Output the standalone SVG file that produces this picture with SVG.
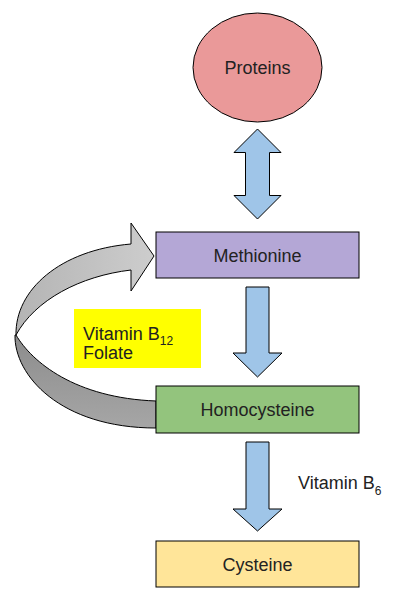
<svg xmlns="http://www.w3.org/2000/svg" width="416" height="598" viewBox="0 0 416 598">
<defs>
<style>
.lbl{font-family:"Liberation Sans",Arial,sans-serif;font-size:18px;fill:#222;}
.node{stroke:#000;stroke-width:1;}
.arr{fill:#9fc5e8;stroke:#000;stroke-width:1;stroke-linejoin:miter;}
.sub{font-size:12px;}
</style>
<linearGradient id="gLight" x1="0" y1="0" x2="1" y2="0">
<stop offset="0" stop-color="#b4b4b4"/>
<stop offset="1" stop-color="#cdcdcd"/>
</linearGradient>
<linearGradient id="gDark" x1="0" y1="0" x2="0" y2="1">
<stop offset="0" stop-color="#8c8c8c"/>
<stop offset="1" stop-color="#a6a6a6"/>
</linearGradient>
</defs>
<rect width="416" height="598" fill="#fff"/>
<g id="connectors">
<path class="arr" d="M257.5,129 L281,152.5 L269.5,152.5 L269.5,195.5 L281,195.5 L257.5,219 L234,195.5 L245.5,195.5 L245.5,152.5 L234,152.5 Z"/>
<path class="arr" d="M246,287 L269,287 L269,353 L282,353 L257.5,377 L233,353 L246,353 Z"/>
<path class="arr" d="M246,442 L269,442 L269,509 L282,509 L257.5,531 L233,509 L246,509 Z"/>
<g id="cycle-arrow" stroke="#000" stroke-width="1" stroke-linejoin="round">
<path fill="url(#gDark)" d="M15,335 C14,375 60,428 156,428 L156,401 C75,398 32,362 16,335 Z"/>
<path fill="url(#gLight)" d="M131,244 L131,223 L154,256 L131,291 L131,270 C80,276 35,300 16,335 C15,290 60,250 131,244 Z"/>
</g>
</g>
<g id="proteins">
<ellipse class="node" cx="257.5" cy="67.5" rx="64.5" ry="54.5" fill="#ea9999"/>
<text class="lbl" x="257.5" y="74" text-anchor="middle">Proteins</text>
</g>
<g id="methionine">
<rect class="node" x="156" y="232" width="203" height="46" fill="#b4a7d6"/>
<text class="lbl" x="257.5" y="261.5" text-anchor="middle">Methionine</text>
</g>
<g id="homocysteine">
<rect class="node" x="156" y="386" width="203" height="47" fill="#93c47d"/>
<text class="lbl" x="257.5" y="416" text-anchor="middle">Homocysteine</text>
</g>
<g id="cysteine">
<rect class="node" x="156" y="541" width="203" height="46" fill="#ffe599"/>
<text class="lbl" x="257.5" y="570.5" text-anchor="middle">Cysteine</text>
</g>
<g id="b12-folate">
<rect x="74" y="309" width="127" height="59" fill="#ffff00"/>
<text class="lbl" x="83" y="340">Vitamin B<tspan class="sub" dy="5">12</tspan></text>
<text class="lbl" x="83" y="359">Folate</text>
</g>
<g id="b6">
<text class="lbl" x="298" y="489">Vitamin B<tspan class="sub" dy="6">6</tspan></text>
</g>
</svg>
